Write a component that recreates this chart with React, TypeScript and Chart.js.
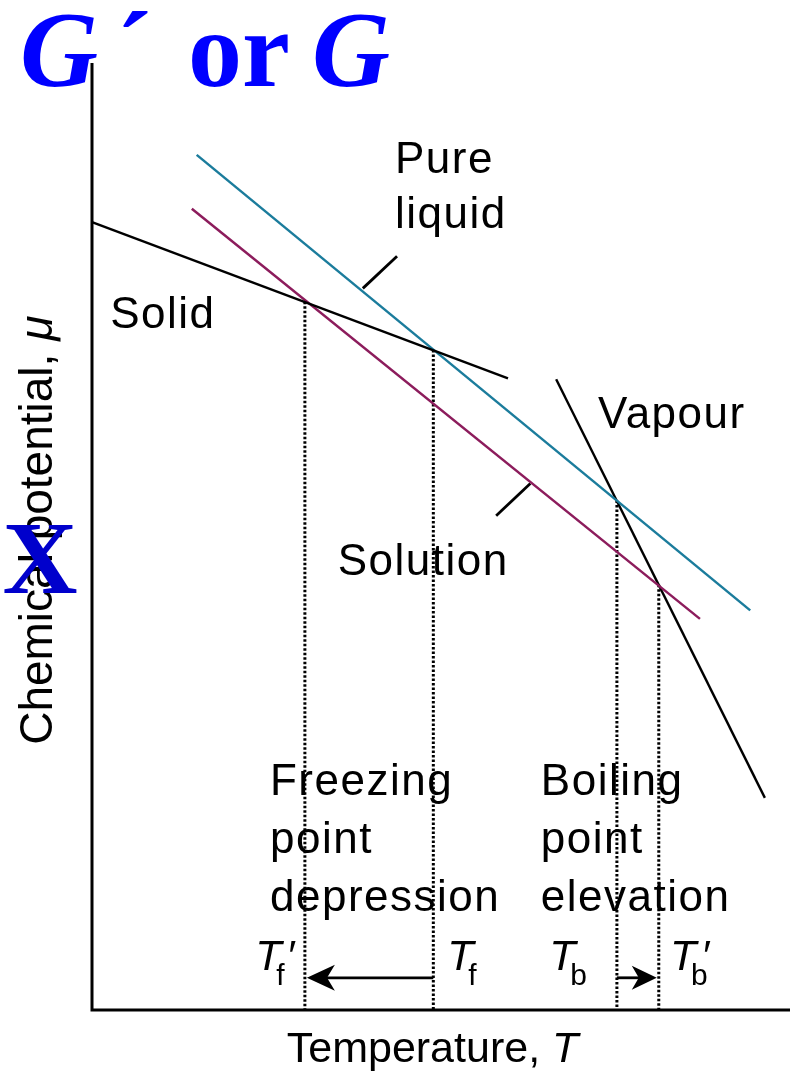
import React, { useEffect, useRef } from "react";
import { Chart, registerables } from "chart.js";

Chart.register(...registerables);

// Schematic values (arbitrary units): temperature (x) and chemical potential (y)
const solidT = [0, 59.6];
const solidMu = [83.2, 66.7];
const liquidT = [15.0, 94.3];
const liquidMu = [90.3, 42.2];
const solutionT = [14.3, 87.1];
const solutionMu = [84.6, 41.3];
const vapourT = [66.5, 96.4];
const vapourMu = [66.6, 22.4];
// Transition temperatures: Tf', Tf, Tb, Tb'
const transitionT = [30.5, 48.9, 75.2, 81.2];
const transitionMu = [74.8, 69.7, 53.8, 44.9];
const transitionNames = ["T′f", "Tf", "Tb", "T′b"];
// Leader lines for the labels
const liquidPointerT = [38.8, 43.7];
const liquidPointerMu = [76.2, 79.6];
const solutionPointerT = [57.9, 62.8];
const solutionPointerMu = [52.2, 55.6];
const arrowMu = 3.4;
const axisT = [0, 0, 100];
const axisMu = [100, 0, 0];

const TEAL = "#1b7c9c";
const MAROON = "#8c1c5c";
const SANS = '"Liberation Sans", Arial, Helvetica, sans-serif';
const SERIF = '"Liberation Serif", "Times New Roman", serif';

const pts = (xs: number[], ys: number[]) => xs.map((x, i) => ({ x, y: ys[i] }));

const annotate = {
  id: "annotate",
  afterDatasetsDraw(chart: any) {
    const ctx: any = chart.ctx;
    const xs = chart.scales.x;
    const ys = chart.scales.y;
    const px = (v: number) => xs.getPixelForValue(v);
    const py = (v: number) => ys.getPixelForValue(v);
    ctx.save();

    // arrowheads
    const head = (tipX: number, tipY: number, dir: number, len: number, hw: number) => {
      ctx.beginPath();
      ctx.moveTo(tipX, tipY);
      ctx.lineTo(tipX - dir * len, tipY - hw);
      ctx.lineTo(tipX - dir * len * 0.72, tipY);
      ctx.lineTo(tipX - dir * len, tipY + hw);
      ctx.closePath();
      ctx.fillStyle = "#000";
      ctx.fill();
    };
    head(px(transitionT[0]) + 2, py(arrowMu), -1, 28, 13);
    head(px(transitionT[3]) - 2, py(arrowMu), 1, 25, 12);

    ctx.fillStyle = "#000";
    ctx.textAlign = "left";
    ctx.textBaseline = "alphabetic";
    const F = `44px ${SANS}`;
    const text = (s: string, xv: number, yv: number) => {
      ctx.font = F;
      ctx.letterSpacing = "1.5px";
      ctx.fillText(s, px(xv), py(yv));
      ctx.letterSpacing = "0px";
    };
    text("Pure", 43.4, 88.4);
    text("liquid", 43.4, 82.6);
    text("Solid", 2.6, 72.0);
    text("Vapour", 72.5, 61.5);
    text("Solution", 35.2, 45.9);
    text("Freezing", 25.5, 22.7);
    text("point", 25.5, 16.6);
    text("depression", 25.5, 10.5);
    text("Boiling", 64.3, 22.7);
    text("point", 64.3, 16.6);
    text("elevation", 64.3, 10.5);

    // transition temperature labels
    const labelX = [23.4, 50.9, 65.5, 82.8];
    transitionNames.forEach((name, i) => {
      const x0 = px(labelX[i]);
      const y0 = py(4.2);
      ctx.font = `italic 43px ${SANS}`;
      ctx.fillText("T", x0, y0);
      const prime = name.includes("′");
      const sub = name[name.length - 1];
      ctx.font = `30px ${SANS}`;
      ctx.fillText(sub, x0 + 21, y0 + 15);
      if (prime) {
        ctx.font = `italic 43px ${SANS}`;
        ctx.fillText("′", x0 + 31, y0);
      }
    });

    // x-axis title
    ctx.font = `43px ${SANS}`;
    const t1 = "Temperature, ";
    const w1 = ctx.measureText(t1).width;
    const startX = px(27.9);
    ctx.fillText(t1, startX, py(-5.5));
    ctx.font = `italic 43px ${SANS}`;
    ctx.fillText("T", startX + w1, py(-5.5));

    // y-axis title (rotated)
    ctx.save();
    ctx.translate(px(-5.7), py(28.0));
    ctx.rotate(-Math.PI / 2);
    ctx.font = `46px ${SANS}`;
    const y1 = "Chemical potential, ";
    ctx.fillText(y1, 0, 0);
    const yw = ctx.measureText(y1).width;
    ctx.font = `italic 46px ${SANS}`;
    ctx.fillText("μ", yw, 0);
    ctx.restore();

    // blue overlay texts
    ctx.fillStyle = "#0000ff";
    ctx.font = `italic bold 108px ${SERIF}`;
    ctx.fillText("G", 20, 86);
    ctx.font = `bold 108px ${SERIF}`;
    ctx.fillText("´", 116, 86);
    ctx.fillText("or", 188, 86);
    ctx.font = `italic bold 108px ${SERIF}`;
    ctx.fillText("G", 312, 86);

    ctx.fillStyle = "#0000cc";
    ctx.font = `bold 104px ${SERIF}`;
    ctx.textAlign = "center";
    ctx.fillText("X", 40, 593);

    ctx.restore();
  },
};

export default function App() {
  const ref = useRef<HTMLCanvasElement>(null);
  useEffect(() => {
    if (!ref.current) return;
    const line = (data: any[], color: string, width: number, extra: any = {}) => ({
      data,
      showLine: true,
      borderColor: color,
      backgroundColor: color,
      borderWidth: width,
      pointRadius: 0,
      fill: false,
      clip: false,
      ...extra,
    });
    const datasets: any[] = [
      line(pts(axisT, axisMu), "#000", 3),
      line(pts(solidT, solidMu), "#000", 2.4),
      line(pts(liquidT, liquidMu), TEAL, 2.5),
      line(pts(solutionT, solutionMu), MAROON, 2.5),
      line(pts(vapourT, vapourMu), "#000", 2.4),
      line(pts(liquidPointerT, liquidPointerMu), "#000", 2.8),
      line(pts(solutionPointerT, solutionPointerMu), "#000", 2.8),
      line(pts([transitionT[1], transitionT[0] + 2], [arrowMu, arrowMu]), "#000", 2.8),
      line(pts([transitionT[2], transitionT[3] - 2], [arrowMu, arrowMu]), "#000", 2.8),
      ...transitionT.map((t, i) =>
        line(pts([t, t], [transitionMu[i], 0]), "#000", 3, { borderDash: [2.5, 2], borderCapStyle: "butt" })
      ),
    ];
    const chart = new Chart(ref.current, {
      type: "scatter",
      data: { datasets },
      options: {
        responsive: false,
        maintainAspectRatio: false,
        animation: false,
        events: [],
        layout: { padding: { left: 92, top: 63, right: 0, bottom: 62 } },
        plugins: { legend: { display: false }, tooltip: { enabled: false } },
        scales: {
          x: { type: "linear", min: 0, max: 100, display: false },
          y: { type: "linear", min: 0, max: 100, display: false },
        },
      },
      plugins: [annotate],
    });
    return () => chart.destroy();
  }, []);
  return (
    <div style={{ position: "absolute", left: 0, top: 0, width: 790, height: 1072, background: "#fff" }}>
      <canvas ref={ref} width={790} height={1072} style={{ display: "block" }} />
    </div>
  );
}
